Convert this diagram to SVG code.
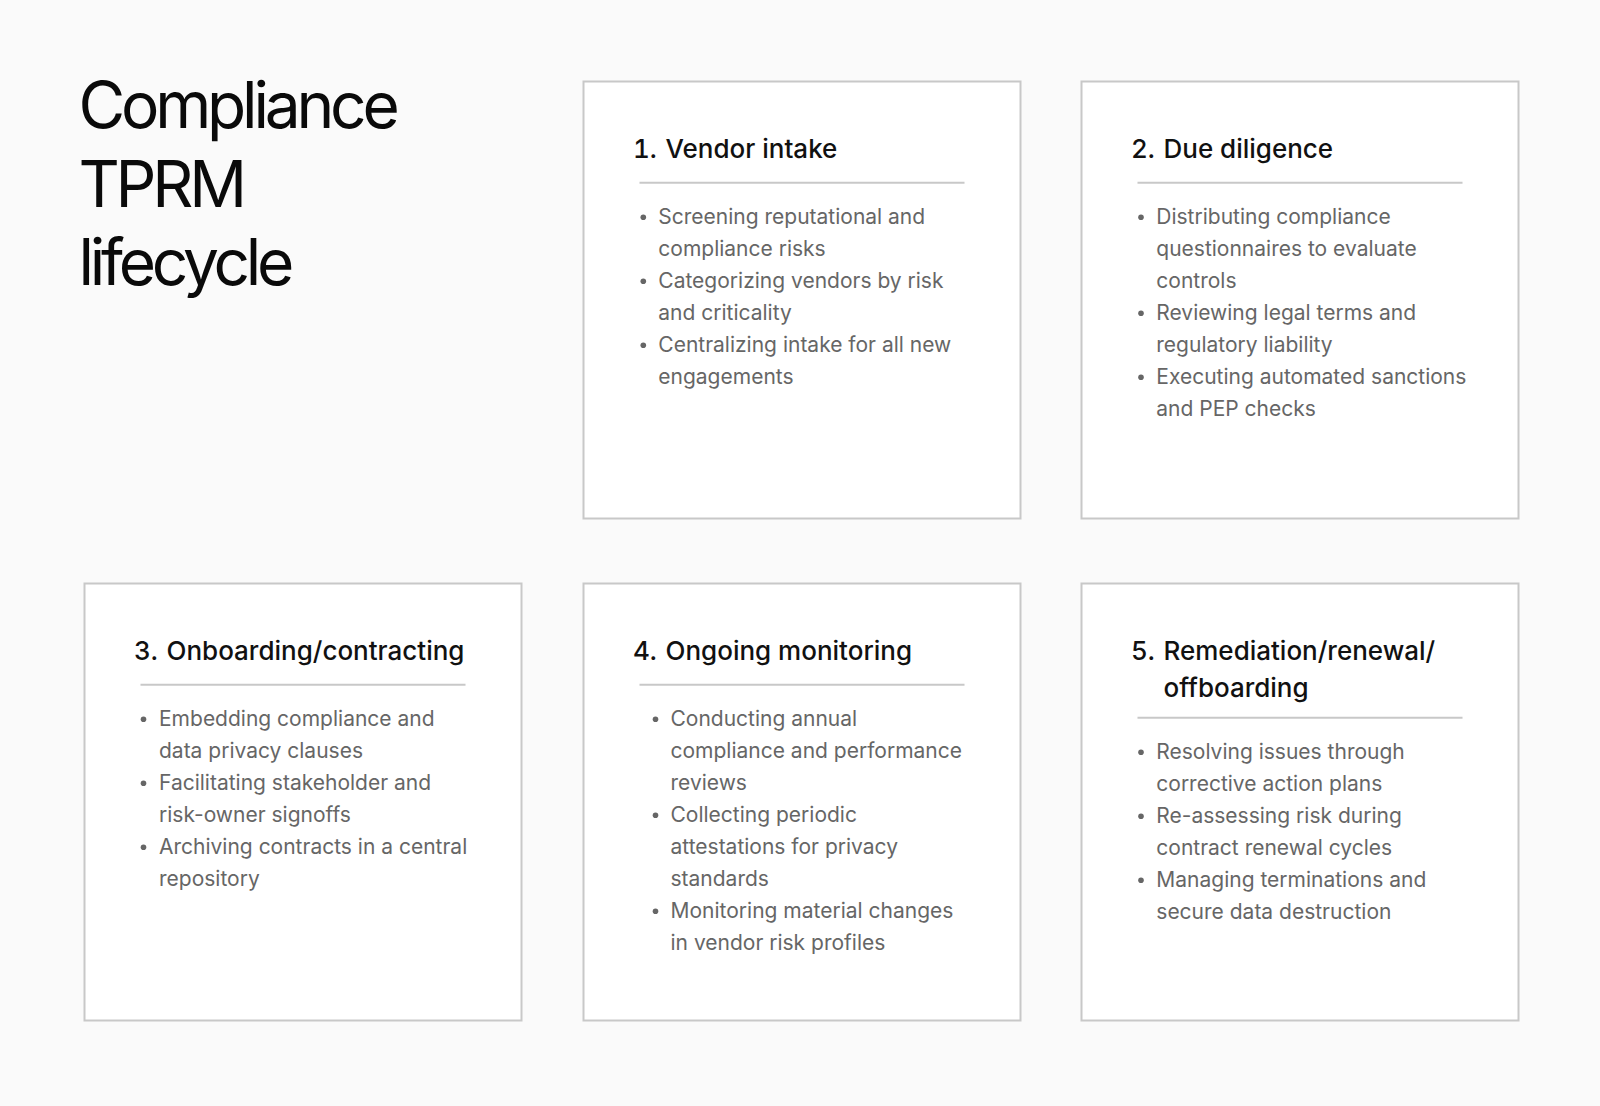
<svg xmlns="http://www.w3.org/2000/svg" width="1600" height="1106" viewBox="0 0 1600 1106">
<style>
.bg{fill:#fafafa}
.card{fill:#ffffff;stroke:#c8c8c8;stroke-width:2}
.rule{stroke:#c8c8c8;stroke-width:2}
.h{font-family:Inter,"Liberation Sans",sans-serif;font-size:26px;font-weight:500;fill:#111111}
.num{font-variant-numeric:tabular-nums;font-feature-settings:"tnum" 1}
.b{font-family:Inter,"Liberation Sans",sans-serif;font-size:21px;font-weight:400;fill:#666666}
.dot{fill:#666666}
.t{font-family:Inter,"Liberation Sans",sans-serif;font-size:64px;font-weight:400;fill:#0a0a0a;letter-spacing:-4.2px}
</style>
<rect class="bg" x="0" y="0" width="1600" height="1106"/>
<g id="title">
<text class="t" x="78.5" y="128.3">Compliance</text>
<text class="t" x="78.5" y="206.7">TPRM</text>
<text class="t" x="78.5" y="285">lifecycle</text>
</g>
<g id="connectors"></g>
<g id="node1">
<rect class="card" x="583.5" y="81.5" width="437" height="437"/>
<text class="h num" x="633" y="158.3">1.</text>
<text class="h" x="665.5" y="158.3">Vendor intake</text>
<line class="rule" x1="639.5" y1="182.7" x2="964.5" y2="182.7"/>
<circle class="dot" cx="643.3" cy="217.3" r="2.8"/>
<circle class="dot" cx="643.3" cy="281.3" r="2.8"/>
<circle class="dot" cx="643.3" cy="345.3" r="2.8"/>
<text class="b" x="658.3" y="224.3">Screening reputational and</text>
<text class="b" x="658.3" y="256.3">compliance risks</text>
<text class="b" x="658.3" y="288.3">Categorizing vendors by risk</text>
<text class="b" x="658.3" y="320.3">and criticality</text>
<text class="b" x="658.3" y="352.3">Centralizing intake for all new</text>
<text class="b" x="658.3" y="384.3">engagements</text>
</g>
<g id="node2">
<rect class="card" x="1081.5" y="81.5" width="437" height="437"/>
<text class="h num" x="1131" y="158.3">2.</text>
<text class="h" x="1163.5" y="158.3">Due diligence</text>
<line class="rule" x1="1137.5" y1="182.7" x2="1462.5" y2="182.7"/>
<circle class="dot" cx="1141" cy="217.3" r="2.8"/>
<circle class="dot" cx="1141" cy="313.3" r="2.8"/>
<circle class="dot" cx="1141" cy="377.3" r="2.8"/>
<text class="b" x="1156.3" y="224.3">Distributing compliance</text>
<text class="b" x="1156.3" y="256.3">questionnaires to evaluate</text>
<text class="b" x="1156.3" y="288.3">controls</text>
<text class="b" x="1156.3" y="320.3">Reviewing legal terms and</text>
<text class="b" x="1156.3" y="352.3">regulatory liability</text>
<text class="b" x="1156.3" y="384.3">Executing automated sanctions</text>
<text class="b" x="1156.3" y="416.3">and PEP checks</text>
</g>
<g id="node3">
<rect class="card" x="84.5" y="583.5" width="437" height="437"/>
<text class="h num" x="134" y="660.3">3.</text>
<text class="h" x="166.5" y="660.3">Onboarding/contracting</text>
<line class="rule" x1="140.5" y1="684.7" x2="465.5" y2="684.7"/>
<circle class="dot" cx="143.5" cy="719.3" r="2.8"/>
<circle class="dot" cx="143.5" cy="783.3" r="2.8"/>
<circle class="dot" cx="143.5" cy="847.3" r="2.8"/>
<text class="b" x="159" y="726.3">Embedding compliance and</text>
<text class="b" x="159" y="758.3">data privacy clauses</text>
<text class="b" x="159" y="790.3">Facilitating stakeholder and</text>
<text class="b" x="159" y="822.3">risk-owner signoffs</text>
<text class="b" x="159" y="854.3">Archiving contracts in a central</text>
<text class="b" x="159" y="886.3">repository</text>
</g>
<g id="node4">
<rect class="card" x="583.5" y="583.5" width="437" height="437"/>
<text class="h num" x="633" y="660.3">4.</text>
<text class="h" x="665.5" y="660.3">Ongoing monitoring</text>
<line class="rule" x1="639.5" y1="684.7" x2="964.5" y2="684.7"/>
<circle class="dot" cx="655.5" cy="719.3" r="2.8"/>
<circle class="dot" cx="655.5" cy="815.3" r="2.8"/>
<circle class="dot" cx="655.5" cy="911.3" r="2.8"/>
<text class="b" x="670.5" y="726.3">Conducting annual</text>
<text class="b" x="670.5" y="758.3">compliance and performance</text>
<text class="b" x="670.5" y="790.3">reviews</text>
<text class="b" x="670.5" y="822.3">Collecting periodic</text>
<text class="b" x="670.5" y="854.3">attestations for privacy</text>
<text class="b" x="670.5" y="886.3">standards</text>
<text class="b" x="670.5" y="918.3">Monitoring material changes</text>
<text class="b" x="670.5" y="950.3">in vendor risk profiles</text>
</g>
<g id="node5">
<rect class="card" x="1081.5" y="583.5" width="437" height="437"/>
<text class="h num" x="1131" y="660.3">5.</text>
<text class="h" x="1163.5" y="660.3">Remediation/renewal/</text>
<text class="h" x="1163.5" y="696.7">offboarding</text>
<line class="rule" x1="1137.5" y1="717.7" x2="1462.5" y2="717.7"/>
<circle class="dot" cx="1141" cy="752.3" r="2.8"/>
<circle class="dot" cx="1141" cy="816.3" r="2.8"/>
<circle class="dot" cx="1141" cy="880.3" r="2.8"/>
<text class="b" x="1156.3" y="759.3">Resolving issues through</text>
<text class="b" x="1156.3" y="791.3">corrective action plans</text>
<text class="b" x="1156.3" y="823.3">Re-assessing risk during</text>
<text class="b" x="1156.3" y="855.3">contract renewal cycles</text>
<text class="b" x="1156.3" y="887.3">Managing terminations and</text>
<text class="b" x="1156.3" y="919.3">secure data destruction</text>
</g>
</svg>
